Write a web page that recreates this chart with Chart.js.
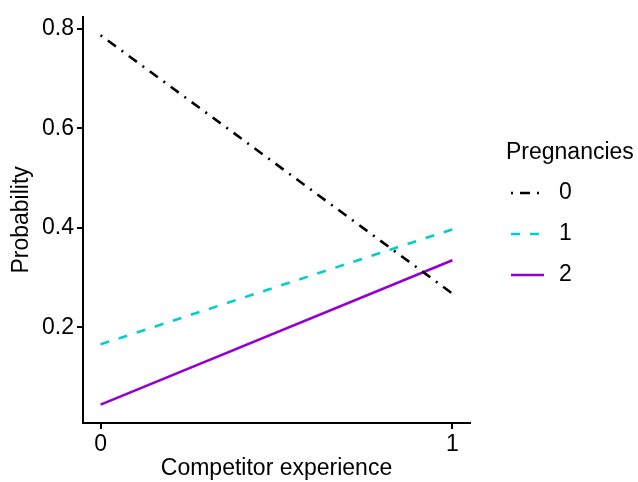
<!DOCTYPE html>
<html>
<head>
<meta charset="utf-8">
<script src="https://cdn.jsdelivr.net/npm/chart.js@4"></script>
<style>
  html, body { margin: 0; padding: 0; background: #fff; }
  canvas { display: block; }
</style>
</head>
<body>
<canvas id="chart" width="638" height="482"></canvas>
<script>
// data
const experience = [0, 1];
const pregnancies = ["0", "1", "2"];
const prob0 = [0.787, 0.268];
const prob1 = [0.166, 0.397];
const prob2 = [0.045, 0.335];
const xTicks = [0, 1];
const yTicks = [0.2, 0.4, 0.6, 0.8];

const seriesValues = [prob0, prob1, prob2];
const lineColors = ["#000000", "#00CED1", "#9400D3"];
const lineDashes = [[2, 7, 10, 7], [9, 10], []];

const FONT = "'Liberation Sans', Arial, sans-serif";
const FSIZE = 23;

const datasets = pregnancies.map((p, i) => ({
  label: p,
  data: experience.map((x, j) => ({ x: x, y: seriesValues[i][j] })),
  borderColor: lineColors[i],
  borderDash: lineDashes[i],
  borderWidth: 2.6,
  borderCapStyle: "butt",
  pointRadius: 0,
  fill: false,
  tension: 0,
}));

// ggplot-style legend on the right
const sideLegend = {
  id: "sideLegend",
  afterDraw(chart) {
    const ctx = chart.ctx;
    ctx.save();
    ctx.fillStyle = "#000";
    ctx.font = FSIZE + "px " + FONT;
    ctx.textBaseline = "middle";
    ctx.textAlign = "left";
    ctx.fillText("Pregnancies", 506, 153);
    chart.data.datasets.forEach((ds, i) => {
      const y = 193 + i * 41;
      ctx.beginPath();
      ctx.strokeStyle = ds.borderColor;
      ctx.lineWidth = ds.borderWidth;
      ctx.lineCap = "butt";
      ctx.setLineDash(ds.borderDash);
      ctx.moveTo(511, y);
      ctx.lineTo(544, y);
      ctx.stroke();
      ctx.setLineDash([]);
      ctx.fillStyle = "#000";
      ctx.fillText(ds.label, 559, y);
    });
    ctx.restore();
  },
};

new Chart(document.getElementById("chart"), {
  type: "line",
  data: { datasets },
  plugins: [sideLegend],
  options: {
    responsive: false,
    animation: false,
    devicePixelRatio: 1,
    layout: { padding: { top: 13, right: 168, left: 0, bottom: 0 } },
    plugins: {
      legend: { display: false },
      tooltip: { enabled: false },
    },
    scales: {
      x: {
        type: "linear",
        min: -0.05,
        max: 1.05,
        afterBuildTicks: (s) => { s.ticks = xTicks.map((v) => ({ value: v })); },
        afterFit: (s) => { s.height = 59; },
        ticks: {
          color: "#000",
          font: { family: FONT, size: FSIZE },
          padding: 2,
          maxRotation: 0,
          callback: (v) => String(v),
        },
        grid: { drawOnChartArea: false, drawTicks: true, tickLength: 6, color: "#000", lineWidth: 2 },
        border: { display: true, color: "#000", width: 2 },
        title: {
          display: true,
          text: "Competitor experience",
          color: "#000",
          font: { family: FONT, size: FSIZE },
          padding: { top: 2, bottom: 0 },
        },
      },
      y: {
        type: "linear",
        min: 0.008,
        max: 0.824,
        afterBuildTicks: (s) => { s.ticks = yTicks.map((v) => ({ value: v })); },
        afterFit: (s) => { s.width = 83; },
        ticks: {
          color: "#000",
          font: { family: FONT, size: FSIZE },
          padding: 3,
          callback: (v) => v.toFixed(1),
        },
        grid: { drawOnChartArea: false, drawTicks: true, tickLength: 6, color: "#000", lineWidth: 2 },
        border: { display: true, color: "#000", width: 2 },
        title: {
          display: true,
          text: "Probability",
          color: "#000",
          font: { family: FONT, size: FSIZE },
          padding: { top: 8, bottom: 4 },
        },
      },
    },
  },
});
</script>
</body>
</html>
